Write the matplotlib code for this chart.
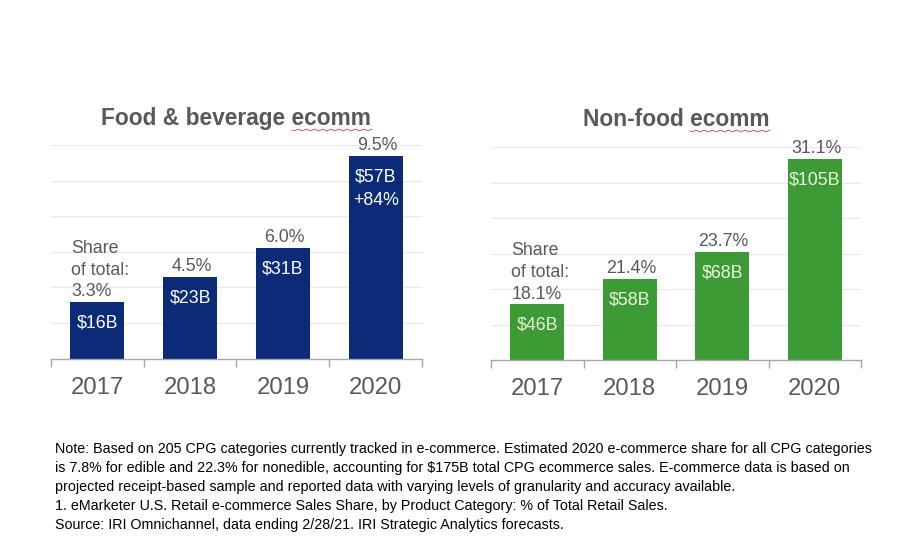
import matplotlib
matplotlib.use("Agg")
import matplotlib.pyplot as plt
import numpy as np

# ---- data ----
years = ["2017", "2018", "2019", "2020"]
food_sales = [16, 23, 31, 57]                 # $B, bar heights
food_sales_labels = ["$16B", "$23B", "$31B", "$57B\n+84%"]
food_share = ["Share\nof total:\n3.3%", "4.5%", "6.0%", "9.5%"]

nonfood_bar_height = [15.8, 22.8, 30.5, 56.6]   # drawn heights
nonfood_sales_labels = ["$46B", "$58B", "$68B", "$105B"]
nonfood_share = ["Share\nof total:\n18.1%", "21.4%", "23.7%", "31.1%"]

footnote_lines = [
    "Note: Based on 205 CPG categories currently tracked in e-commerce. Estimated 2020 e-commerce share for all CPG categories",
    "is 7.8% for edible and 22.3% for nonedible, accounting for $175B total CPG ecommerce sales. E-commerce data is based on",
    "projected receipt-based sample and reported data with varying levels of granularity and accuracy available.",
    "1. eMarketer U.S. Retail e-commerce Sales Share, by Product Category: % of Total Retail Sales.",
    "Source: IRI Omnichannel, data ending 2/28/21. IRI Strategic Analytics forecasts.",
]

plt.rcParams['font.family'] = ['Liberation Sans', 'DejaVu Sans']
GRAY = "#595959"
W, H = 900, 550
fig = plt.figure(figsize=(9, 5.5), dpi=100)
fig.patch.set_facecolor("white")


def px_axes(x0, x1, ytop, ybase):
    return fig.add_axes([x0 / W, 1 - ybase / H, (x1 - x0) / W, (ybase - ytop) / H])


def panel(ax, heights, inner_labels, share_labels, color, inner_color, title, title_x):
    x = np.arange(len(years))
    ax.bar(x, heights, width=0.58, color=color, zorder=3)
    ax.set_xlim(-0.5, len(years) - 0.5)
    ax.set_ylim(0, 60)
    ax.set_yticks(np.arange(10, 61, 10))
    ax.yaxis.grid(True, color="#e8e8e8", lw=0.8, zorder=0)
    ax.tick_params(axis="y", length=0, labelleft=False)
    for s in ["top", "right", "left"]:
        ax.spines[s].set_visible(False)
    ax.spines["bottom"].set_color("#a6a6a6")
    ax.spines["bottom"].set_linewidth(1.0)
    ax.spines["bottom"].set_zorder(4)
    ax.set_xticks(np.arange(-0.5, len(years), 1.0))
    ax.tick_params(axis="x", which="major", direction="out", length=5.5,
                   color="#a6a6a6", width=1, labelbottom=False)
    ax.set_xticks(x, minor=True)
    ax.set_xticklabels(years, minor=True)
    ax.tick_params(axis="x", which="minor", length=0, pad=13,
                   labelsize=17.2, labelcolor=GRAY)
    for i, (h, lab) in enumerate(zip(heights, inner_labels)):
        ax.annotate(lab, (i, h), xytext=(0, -9), textcoords="offset points",
                    ha="center", va="top", color=inner_color, fontsize=12.8,
                    linespacing=1.5, zorder=5)
    for i, (h, lab) in enumerate(zip(heights, share_labels)):
        if i == 0:
            ax.annotate(lab, (i - 0.28, h), xytext=(0, 1), textcoords="offset points",
                        ha="left", va="bottom", color=GRAY, fontsize=12.8,
                        linespacing=1.35, zorder=5)
        else:
            ax.annotate(lab, (i, h), xytext=(1, 1.5), textcoords="offset points",
                        ha="center", va="bottom", color=GRAY, fontsize=12.8, zorder=5)
    fig.text(title_x / W, 1 - 119 / H, title, ha="center", va="center",
             fontsize=16.4, fontweight="bold", color=GRAY)


ax1 = px_axes(51, 422, 145, 358.5)
panel(ax1, food_sales, food_sales_labels, food_share, "#0b2a78", "white",
      "Food & beverage ecomm", 236)
ax2 = px_axes(491, 861, 147, 360)
panel(ax2, nonfood_bar_height, nonfood_sales_labels, nonfood_share, "#3d9b35", "#e8f6dc",
      "Non-food ecomm", 676)

# spell-check style wavy underline under "ecomm"
for xa, xb, yy in [(292, 372, 130), (690, 770, 131)]:
    xs = np.linspace(xa, xb, 160)
    ys = yy + 0.8 * np.sin((xs - xa) / 1.3)
    fig.add_artist(plt.Line2D(xs / W, 1 - ys / H, color="#d04040", lw=0.6,
                              transform=fig.transFigure))

# footnote: fit first line to the reference width (55..870 px)
renderer = fig.canvas.get_renderer()
probe = fig.text(0, 0, footnote_lines[0], fontsize=10)
wpx = probe.get_window_extent(renderer).width
probe.remove()
fs = 10 * 815 / wpx
for k, line in enumerate(footnote_lines):
    fig.text(55 / W, 1 - (449 + 19 * k) / H, line, ha="left", va="center",
             fontsize=fs, color="black")

fig.savefig("out.png", dpi=100, facecolor="white")
